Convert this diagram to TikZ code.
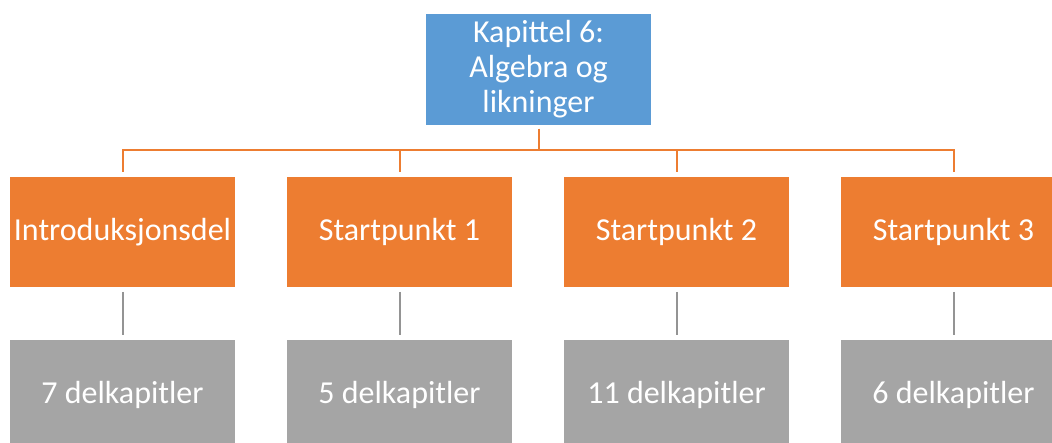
\documentclass[tikz,border=0pt]{standalone}
\usepackage{fontspec}
\setmainfont{Carlito}
\usetikzlibrary{positioning}

\definecolor{kapblue}{HTML}{5B9BD5}
\definecolor{kaporange}{HTML}{ED7D31}
\definecolor{kapgray}{HTML}{A5A5A5}

\begin{document}
\begin{tikzpicture}[
  font=\fontsize{32}{35}\selectfont,
  every node/.style={align=center, outer sep=0pt, inner sep=2pt, text=white},
  chap/.style  ={rectangle, fill=kapblue, minimum width=225pt, minimum height=111pt},
  part/.style  ={rectangle, fill=kaporange, minimum width=225pt, minimum height=110pt},
  count/.style ={rectangle, fill=kapgray, minimum width=225pt, minimum height=110pt},
  edge/.style  ={draw=kaporange, line width=2pt, shorten <=4pt, shorten >=5pt},
  edge-g/.style={draw=kapgray!90!black, line width=2pt, shorten <=5pt, shorten >=5pt},
]

\useasboundingbox (0,0) rectangle (1052pt,-443pt);
\clip (0,0) rectangle (1052pt,-443pt);

% --- Kapittel ---
\node[chap] (kap) at (538.5pt,-69.5pt) {Kapittel 6:\\Algebra og\\likninger};

% --- Startpunkter ---
\node[part, below=52pt of kap, xshift=-416pt] (intro) {Introduksjonsdel};
\node[part, right=52pt of intro]              (sp1)   {Startpunkt 1};
\node[part, right=52pt of sp1]                (sp2)   {Startpunkt 2};
\node[part, right=52pt of sp2]                (sp3)   {Startpunkt 3};

% --- Delkapitler ---
\node[count, below=53pt of intro] (del1) {7 delkapitler};
\node[count, below=53pt of sp1]   (del2) {5 delkapitler};
\node[count, below=53pt of sp2]   (del3) {11 delkapitler};
\node[count, below=53pt of sp3]   (del4) {6 delkapitler};

% --- Linjer ---
\draw[edge] (kap.south) -- ++(0,-25pt) -| (intro.north);
\draw[edge] (kap.south) -- ++(0,-25pt) -| (sp1.north);
\draw[edge] (kap.south) -- ++(0,-25pt) -| (sp2.north);
\draw[edge] (kap.south) -- ++(0,-25pt) -| (sp3.north);

\draw[edge-g] (intro.south) -- (del1.north);
\draw[edge-g] (sp1.south)   -- (del2.north);
\draw[edge-g] (sp2.south)   -- (del3.north);
\draw[edge-g] (sp3.south)   -- (del4.north);

\end{tikzpicture}
\end{document}
